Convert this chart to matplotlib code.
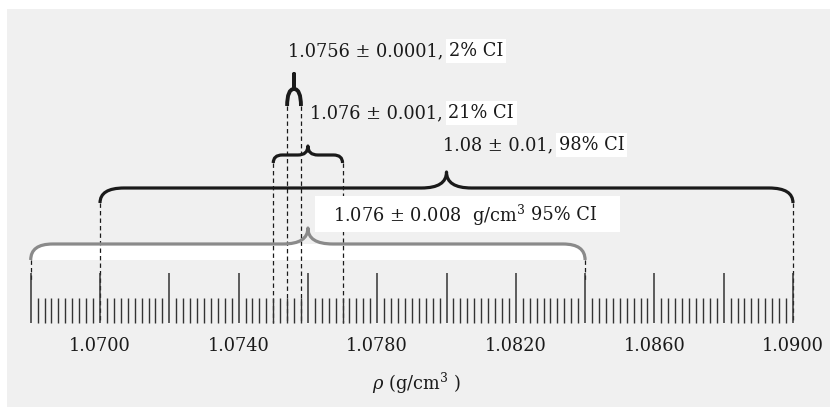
import numpy as np
import matplotlib
matplotlib.use("Agg")
import matplotlib.pyplot as plt
from matplotlib.path import Path
from matplotlib.patches import PathPatch, Rectangle
from matplotlib.transforms import Affine2D

# ---------------- data ----------------
axis_start = 1.068
axis_end = 1.090
major_step = 0.002
minor_step = 0.0002
label_values = [1.0700, 1.0740, 1.0780, 1.0820, 1.0860, 1.0900]

# bracket centres and drawn half-widths
estimates = [1.0756, 1.076, 1.08, 1.076]
half_widths = [0.0002, 0.001, 0.01, 0.008]
value_texts = ["1.0756 ± 0.0001,", "1.076 ± 0.001,", "1.08 ± 0.01,", "1.076 ± 0.008  g/cm$^3$"]
ci_texts = ["2% CI", "21% CI", "98% CI", "95% CI"]
xlabel_text = r"$\rho$ (g/cm$^3$ )"

# ---------------- figure ----------------
W, H = 830, 407
plt.rcParams["font.family"] = ["DejaVu Serif"]
plt.rcParams["mathtext.fontset"] = "dejavuserif"
fig = plt.figure(figsize=(W / 100, H / 100), dpi=100)
fig.patch.set_facecolor("white")
ax = fig.add_axes([0, 0, 1, 1])
ax.set_axis_off()
XMIN = 1.07 - 100 / 34650
XMAX = 1.07 + 730 / 34650
ax.set_xlim(XMIN, XMAX)
ax.set_ylim(H, 0)
PX = W / (XMAX - XMIN)  # pixels per data unit

# pixel transform (x from left, y from top)
T = Affine2D().scale(1 / W, -1 / H).translate(0, 1) + fig.transFigure

ax.add_patch(Rectangle((7, 9), W - 7, H - 9, transform=T,
                       facecolor="#f0f0f0", edgecolor="none", zorder=0))

TXT = "#1a1a1a"
FS = 12.8

# ticks
tick_bottom = 323
majors = np.round(np.arange(axis_start, axis_end + 1e-9, major_step), 4)
minors = np.round(np.arange(axis_start, axis_end + 1e-9, minor_step), 5)
minors = [m for m in minors if not np.any(np.isclose(m, majors))]
ax.vlines(minors, 298, tick_bottom, color="#333333", lw=1.0, zorder=3)
ax.vlines(majors, 273, tick_bottom, color="#333333", lw=1.1, zorder=3)
for v in label_values:
    ax.text(v, 346, f"{v:.4f}", ha="center", va="center", fontsize=FS, color=TXT)
ax.text(416, 383, xlabel_text, transform=T, ha="center", va="center",
        fontsize=FS, color=TXT)

# brace styles: y_end, y_line, y_cusp, r_end(px), r_cusp(px), color, lw
styles = [
    (106, 89, 74, None, 0.0, "#1a1a1a", 2.8),
    (163, 155, 146, 9, 10, "#1a1a1a", 2.3),
    (203, 188, 172, 24, 25, "#1a1a1a", 2.3),
    (260, 244, 228, 22, 25, "#8a8a8a", 2.3),
]
dash_bottom = [tick_bottom, tick_bottom, tick_bottom, 280]


def brace_path(lo, hi, y_end, y_line, y_cusp, re, rc):
    c = (lo + hi) / 2
    re_d = (c - lo) if re is None else re / PX
    rc_d = rc / PX
    verts = [
        (lo, y_end), (lo, y_line), (lo + re_d, y_line),
        (c - rc_d, y_line), (c, y_line), (c, y_cusp),
        (c, y_line), (c + rc_d, y_line),
        (hi - re_d, y_line), (hi, y_line), (hi, y_end),
    ]
    codes = [Path.MOVETO, Path.CURVE3, Path.CURVE3,
             Path.LINETO, Path.CURVE3, Path.CURVE3,
             Path.CURVE3, Path.CURVE3,
             Path.LINETO, Path.CURVE3, Path.CURVE3]
    return Path(verts, codes)


def fill_path(lo, hi, y_end, y_line, re):
    re_d = re / PX
    verts = [(lo, y_end), (lo, y_line), (lo + re_d, y_line),
             (hi - re_d, y_line), (hi, y_line), (hi, y_end), (lo, y_end)]
    codes = [Path.MOVETO, Path.CURVE3, Path.CURVE3, Path.LINETO,
             Path.CURVE3, Path.CURVE3, Path.CLOSEPOLY]
    return Path(verts, codes)


for i, (est, hw) in enumerate(zip(estimates, half_widths)):
    lo, hi = est - hw, est + hw
    y_end, y_line, y_cusp, re, rc, col, lw = styles[i]
    if i == 3:
        ax.add_patch(PathPatch(fill_path(lo, hi, y_end, y_line, re),
                               facecolor="white", edgecolor="none", zorder=1))
    ax.vlines([lo, hi], y_end, dash_bottom[i], color="#1a1a1a", lw=0.9,
              linestyles=(0, (3.5, 2.5)), zorder=2)
    ax.add_patch(PathPatch(brace_path(lo, hi, y_end, y_line, y_cusp, re, rc),
                           facecolor="none", edgecolor=col, lw=lw,
                           capstyle="butt", joinstyle="round", zorder=4))

# labels
text_pos = [(288, 51), (310, 113), (443, 145), (333, 215)]
# white box behind the whole 95% label
ax.add_patch(Rectangle((315, 196), 305, 36, transform=T, facecolor="white",
                       edgecolor="none", zorder=5))
for i, (x, y) in enumerate(text_pos):
    t = ax.text(x, y, value_texts[i], transform=T, ha="left", va="center",
                fontsize=FS, color=TXT, zorder=6)
    ax.annotate(ci_texts[i], xy=(1, 0.5), xycoords=t, xytext=(4, 0),
                textcoords="offset points", ha="left", va="center",
                fontsize=FS, color=TXT, zorder=6,
                bbox=dict(boxstyle="square,pad=0.15", facecolor="white",
                          edgecolor="none"))

fig.savefig("out.png", dpi=100, facecolor="white")
